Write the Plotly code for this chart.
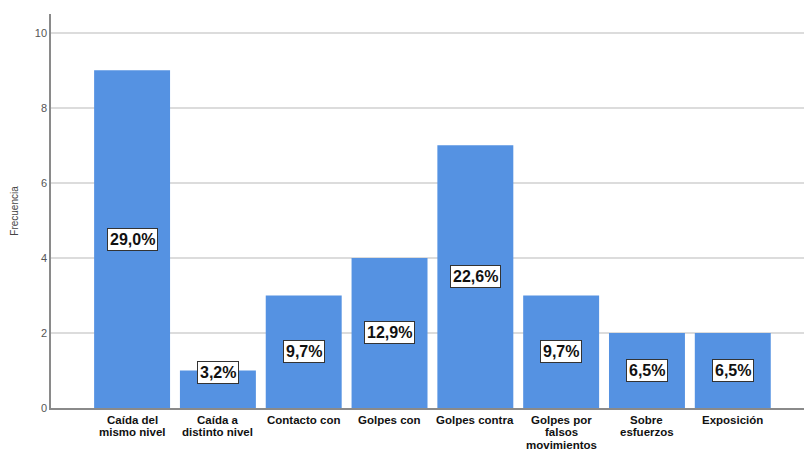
import plotly.graph_objects as go

categories = [
    ["Caída del", "mismo nivel"],
    ["Caída a", "distinto nivel"],
    ["Contacto con"],
    ["Golpes con"],
    ["Golpes contra"],
    ["Golpes por", "falsos", "movimientos"],
    ["Sobre", "esfuerzos"],
    ["Exposición"],
]
frecuencia = [9, 1, 3, 4, 7, 3, 2, 2]
porcentaje = ["29,0%", "3,2%", "9,7%", "12,9%", "22,6%", "9,7%", "6,5%", "6,5%"]
y_ticks = [0, 2, 4, 6, 8, 10]

bar_color = "#5592e2"
axis_color = "#8a8a8a"
grid_color = "#dcdcdc"
font_family = "Liberation Sans, Arial"

positions = list(range(len(categories)))

fig = go.Figure()
fig.add_trace(go.Bar(
    x=positions,
    y=frecuencia,
    marker=dict(color=bar_color, line=dict(width=0)),
    width=0.885,
    hoverinfo="skip",
))

# percentage labels centred in each bar, kept clear of the baseline
for i, (v, txt) in enumerate(zip(frecuencia, porcentaje)):
    fig.add_annotation(
        x=i, y=max(v / 2, 0.95), text=f"<b>{txt}</b>",
        showarrow=False, xref="x", yref="y",
        font=dict(family=font_family, size=16, color="#111111"),
        bgcolor="white", bordercolor="#333333", borderwidth=1, borderpad=2,
    )

# category names under the axis, one line at a time for tight line spacing
for i, lines in enumerate(categories):
    for k, line in enumerate(lines):
        fig.add_annotation(
            x=i, y=0, xref="x", yref="y",
            text=f"<b>{line}</b>", showarrow=False,
            yanchor="top", yshift=-5 - 12.3 * k,
            font=dict(family=font_family, size=11.5, color="#111111"),
            borderpad=0,
        )

fig.update_layout(
    width=804, height=450,
    margin=dict(l=51, r=0, t=14, b=42, autoexpand=False),
    plot_bgcolor="white", paper_bgcolor="white",
    showlegend=False,
    font=dict(family=font_family),
    xaxis=dict(
        range=[-0.945, 7.83],
        showticklabels=False,
        showline=True, linecolor=axis_color, linewidth=1.5,
        showgrid=False, ticks="", zeroline=False, automargin=False,
    ),
    yaxis=dict(
        range=[0, 10.5],
        tickvals=y_ticks,
        tickfont=dict(size=11, color="#555555"),
        showline=True, linecolor=axis_color, linewidth=1.5,
        showgrid=True, gridcolor=grid_color, gridwidth=1.5,
        ticks="", zeroline=False, automargin=False,
        title=dict(text="Frecuencia", font=dict(size=10, color="#444444"), standoff=14),
    ),
)

fig.write_html("out.html")
